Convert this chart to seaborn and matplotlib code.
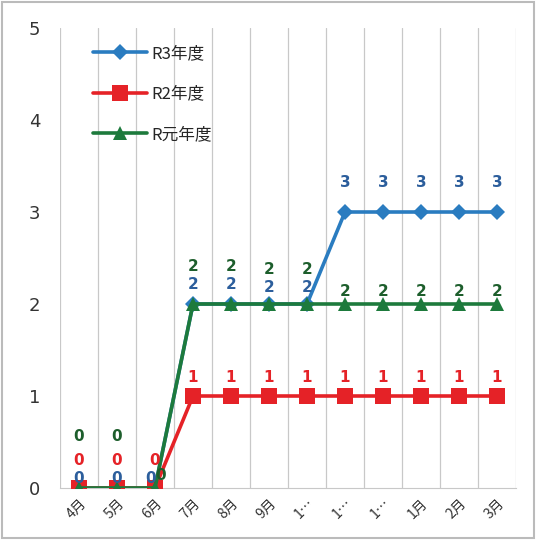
import numpy as np
import matplotlib
matplotlib.use("Agg")
import matplotlib.pyplot as plt
import pandas as pd
import seaborn as sns

months = ["4月", "5月", "6月", "7月", "8月", "9月", "1…", "1…", "1…", "1月", "2月", "3月"]
r3 = [0, 0, 0, 2, 2, 2, 2, 3, 3, 3, 3, 3]
r2 = [0, 0, 0, 1, 1, 1, 1, 1, 1, 1, 1, 1]
r1 = [0, 0, 0, 2, 2, 2, 2, 2, 2, 2, 2, 2]
names = ["R3年度", "R2年度", "R元年度"]

sns.set_style("white")
plt.rcParams['font.family'] = ['Noto Sans CJK JP', 'DejaVu Sans']

df = pd.DataFrame({"x": np.tile(np.arange(len(months)), 3),
                   "y": r3 + r2 + r1,
                   "series": np.repeat(names, len(months))})

fig = plt.figure(figsize=(5.36, 5.40), dpi=100)
ax = fig.add_axes([60 / 536, 1 - 488 / 540, 456 / 536, 460 / 540])

colors = {"R3年度": "#2a7cc0", "R2年度": "#e52227", "R元年度": "#1d7a3c"}
markers = {"R3年度": "D", "R2年度": "s", "R元年度": "^"}
msizes = {"R3年度": 8, "R2年度": 11, "R元年度": 10}
for i, name in enumerate(names):
    sub = df[df.series == name]
    sns.lineplot(data=sub, x="x", y="y", ax=ax, color=colors[name], lw=2.6,
                 marker=markers[name], markersize=msizes[name], markeredgewidth=0,
                 label=name, zorder=3 + i)

# data labels (offsets in points, staggered like the original)
lab_colors = {"R3年度": "#2c5e9c", "R2年度": "#e52227", "R元年度": "#1d5e2c"}
off_r3 = [7, 7, 7, 14, 14, 12, 12, 21, 21, 21, 21, 21]
off_r2 = [20, 20, 20, 13, 13, 13, 13, 13, 13, 13, 13, 13]
off_r1 = [37, 37, 9, 27, 27, 25, 25, 9, 9, 9, 9, 9]
for name, vals, offs in [("R3年度", r3, off_r3), ("R2年度", r2, off_r2), ("R元年度", r1, off_r1)]:
    for i, (v, o) in enumerate(zip(vals, offs)):
        dx = 0
        if name == "R元年度" and i == 2:
            dx = 4
        if name == "R3年度" and i == 2:
            dx = -3
        ax.annotate(str(v), (i, v), xytext=(dx, o), textcoords="offset points",
                    ha="center", va="center", fontsize=11, fontweight="bold",
                    color=lab_colors[name], zorder=10, family=["DejaVu Sans"])

ax.set_xlim(-0.5, len(months) - 0.5)
ax.set_ylim(0, 5)
ax.set_xticks(np.arange(len(months)))
ax.set_xticklabels(months, rotation=45, ha="right", rotation_mode="anchor", fontsize=10, color="#333333")
ax.set_xticks(np.arange(len(months) + 1) - 0.5, minor=True)
ax.set_yticks(range(6))
ax.set_yticklabels([str(v) for v in range(6)], fontsize=13, color="#333333", family=["DejaVu Sans"])
ax.tick_params(axis="y", length=0, pad=14)
ax.tick_params(axis="x", which="both", length=0, pad=6)
ax.grid(axis="x", which="minor", color="#c8c8c8", lw=0.9)
ax.grid(axis="x", which="major", visible=False)
ax.set_xlabel("")
ax.set_ylabel("")
for s in ["top", "right", "left"]:
    ax.spines[s].set_visible(False)
ax.spines["bottom"].set_color("#c8c8c8")

leg = ax.legend(loc="upper left", bbox_to_anchor=(0.04, 0.995), frameon=False,
                fontsize=12, labelspacing=1.4, handlelength=3.2, handletextpad=0.3)

fig.patches.append(plt.Rectangle((0.003, 0.003), 0.994, 0.994, transform=fig.transFigure,
                                 fill=False, edgecolor="#bbbbbb", lw=1.5))
fig.savefig("out.png", dpi=100)
